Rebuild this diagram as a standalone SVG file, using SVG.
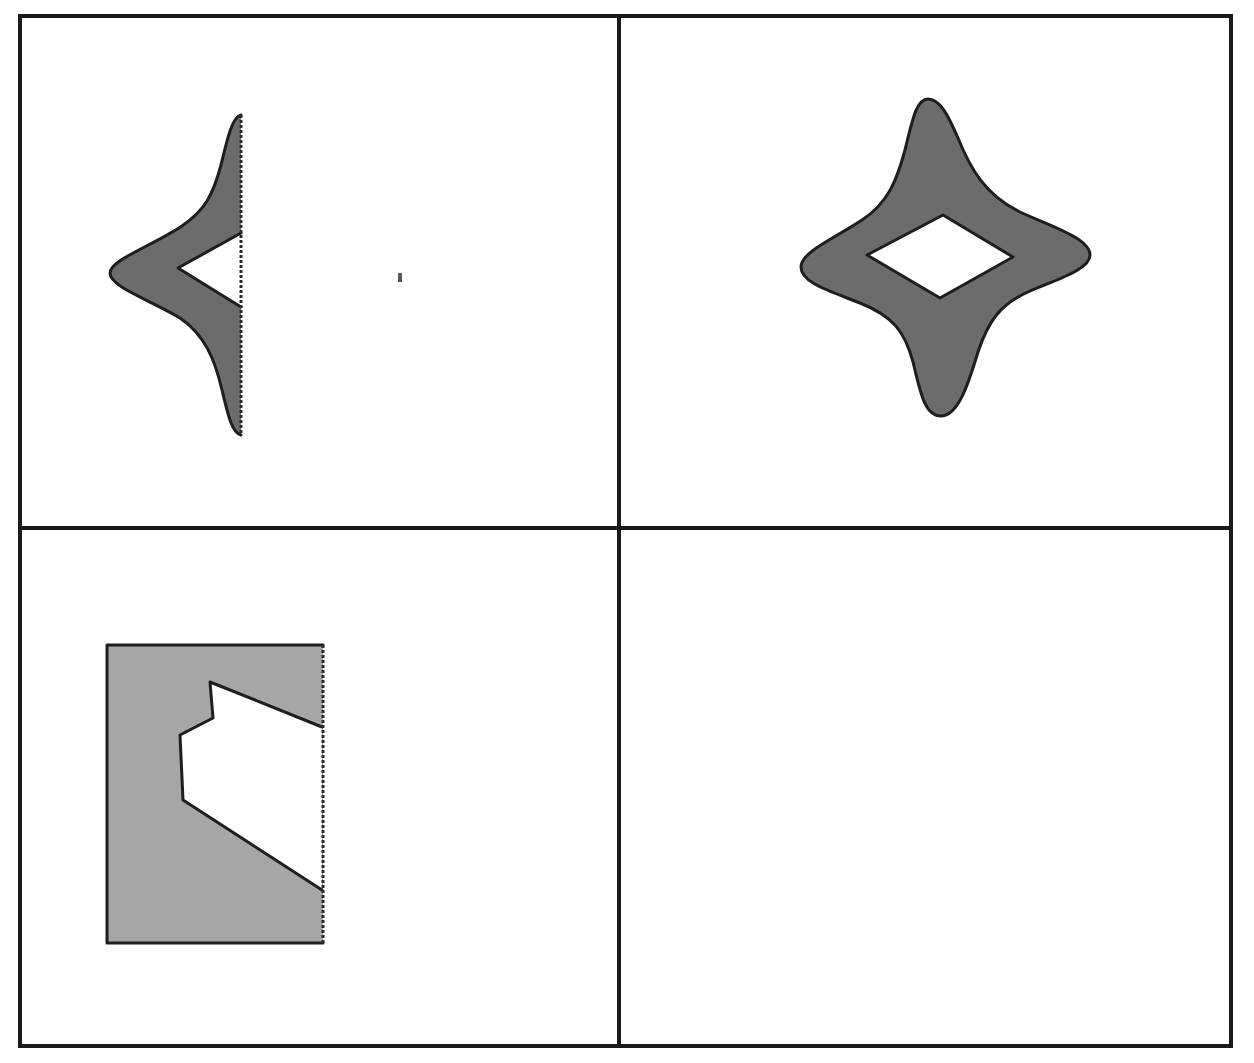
<svg xmlns="http://www.w3.org/2000/svg" width="1254" height="1063" viewBox="0 0 1254 1063">
<style>
.frame{fill:none;stroke:#1a1a1a;stroke-width:4}
.outline{stroke:#1e1e1e;stroke-width:3;stroke-linejoin:round;stroke-linecap:round}
.dark{fill:#6c6c6c}
.light{fill:#a6a6a6}
.hole{fill:#ffffff}
.dots{fill:none;stroke:#2a2a2a;stroke-width:3;stroke-dasharray:3 2}
</style>
<rect width="1254" height="1063" fill="#ffffff"/>
<g id="frame">
<rect class="frame" x="20" y="16" width="1211" height="1030"/>
<line class="frame" x1="619" y1="16" x2="619" y2="1046"/>
<line class="frame" x1="20" y1="528" x2="1231" y2="528"/>
</g>
<g id="half-star">
<path class="dark" d="M241,115 C232,117 227,140 221,165 C213,195 205,210 182,226 C152,246 110,260 110,273 C110,287 150,300 180,318 C205,335 215,360 222,390 C228,415 232,433 241,435 Z"/>
<path class="outline" fill="none" d="M241,115 C232,117 227,140 221,165 C213,195 205,210 182,226 C152,246 110,260 110,273 C110,287 150,300 180,318 C205,335 215,360 222,390 C228,415 232,433 241,435"/>
<polygon class="hole" points="241,233 178,268 241,307"/>
<polyline class="outline" fill="none" points="241,233 178,268 241,307"/>
<line class="dots" x1="241" y1="115" x2="241" y2="435"/>
</g>
<g id="dot">
<rect x="398" y="273" width="4" height="9" fill="#555"/>
</g>
<g id="star">
<path class="dark outline" fill-rule="evenodd" d="M928,99 C940,99 948,115 958,138 C970,168 985,195 1020,212 C1050,226 1090,238 1090,255 C1090,270 1055,280 1028,292 C1000,304 988,322 978,352 C968,385 958,416 941,416 C924,416 920,390 913,362 C905,332 893,316 860,303 C830,291 801,283 801,267 C801,252 835,238 862,220 C888,203 897,180 905,150 C912,122 916,99 928,99 Z M943,215 L1013,257 L940,298 L867,255 Z"/>
</g>
<g id="block">
<rect class="light" x="107" y="645" width="216" height="298"/>
<polygon class="hole" points="210,682 322,727 322,890 183,800 180,735 213,718"/>
<polyline class="outline" fill="none" points="322,727 210,682 213,718 180,735 183,800 322,890"/>
<polyline class="outline" fill="none" points="323,645 107,645 107,943 323,943"/>
<line class="dots" x1="323" y1="645" x2="323" y2="943"/>
</g>
</svg>
